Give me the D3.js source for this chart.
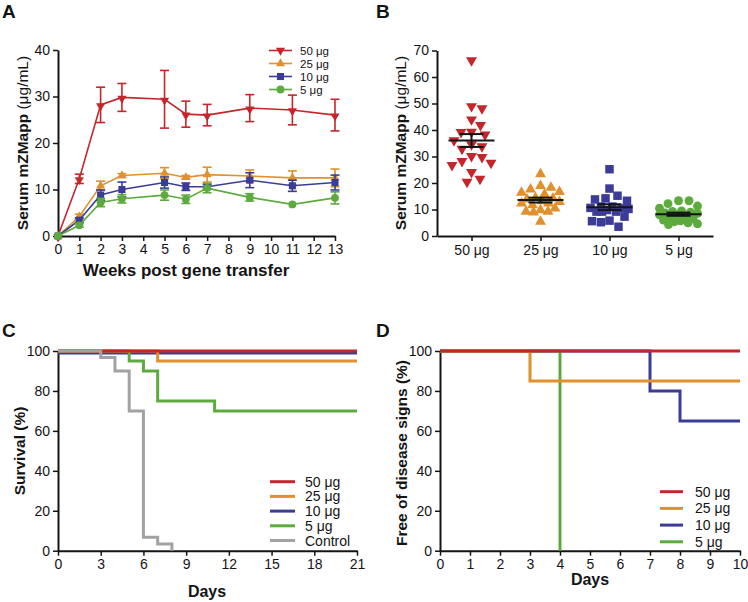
<!DOCTYPE html>
<html>
<head>
<meta charset="utf-8">
<script src="https://cdn.jsdelivr.net/npm/d3@7"></script>
<style>
  body { margin: 0; background: #fff; }
  svg { display: block; }
</style>
</head>
<body>
<script>
// panel A - serum levels over time
const weeks = [0, 1, 2, 3, 5, 6, 7, 9, 11, 13];
const mean50 = [0, 12.3, 28.2, 29.8, 29.4, 26.2, 26.0, 27.5, 27.1, 26.0];
const err50 = [0, 1.0, 3.8, 3.0, 6.2, 2.8, 2.3, 2.9, 3.2, 3.4];
const mean25 = [0, 4.2, 10.8, 13.0, 13.5, 12.6, 13.2, 12.9, 12.5, 12.5];
const err25 = [0, 0.5, 1.0, 0.4, 1.2, 0.4, 1.6, 1.3, 1.5, 1.9];
const mean10 = [0, 3.4, 8.8, 10.0, 11.5, 10.6, 10.6, 12.0, 10.8, 11.5];
const err10 = [0, 0.5, 1.1, 1.6, 1.2, 0.8, 0.5, 1.6, 1.2, 1.6];
const mean5 = [0, 2.3, 7.2, 8.0, 8.8, 7.9, 10.3, 8.3, 6.8, 8.2];
const err5 = [0, 0.4, 0.9, 0.9, 1.1, 0.9, 1.0, 0.8, 0, 1.3];

// panel B - individual serum values
const doseLabels = ['50 μg', '25 μg', '10 μg', '5 μg'];
const b50 = [66.7, 49.4, 48.6, 44.4, 42.3, 39.6, 39.7, 38.7, 36.5, 35.0, 34.3, 33.3, 30.2, 30.6, 28.0, 28.7, 27.2, 24.5, 20.9, 22.0];
const b25 = [23.4, 18.9, 18.3, 17.6, 16.4, 16.7, 15.7, 14.4, 14.2, 12.3, 12.9, 11.7, 12.3, 10.4, 9.8, 9.2, 9.2, 8.9, 5.4, 13.8, 13.2];
const b10 = [25.2, 17.9, 14.2, 15.2, 13.3, 13.8, 11.1, 11.1, 10.4, 9.8, 9.2, 9.2, 9.2, 7.3, 5.8, 5.2, 5.6, 3.5, 10.6, 10.2];
const b5 = [12.2, 13.3, 13.3, 11.3, 10.5, 9.3, 9.0, 8.7, 8.5, 8.0, 7.6, 7.2, 6.8, 6.5, 6.0, 5.7, 5.4, 5.0, 4.6, 4.3, 9.5];

// panel C - survival
const c50Days = [0, 21], c50Pct = [100, 100];
const c25Days = [0, 7, 21], c25Pct = [100, 95, 95];
const c10Days = [0, 21], c10Pct = [99, 99];
const c5Days = [0, 5, 6, 7, 11, 21], c5Pct = [100, 95, 90, 75, 70, 70];
const ctrlDays = [0, 3, 4, 5, 6, 7, 8], ctrlPct = [100, 96.7, 90, 70, 6.7, 3.3, 0];

// panel D - free of disease signs
const d50Days = [0, 10], d50Pct = [100, 100];
const d25Days = [0, 3, 10], d25Pct = [100, 85, 85];
const d10Days = [0, 7, 8, 10], d10Pct = [100, 80, 65, 65];
const d5Days = [0, 4], d5Pct = [100, 0];

const FONT = '"Liberation Sans", Arial, Helvetica, sans-serif';
const RED = '#c4262b', ORANGE = '#e0902c', BLUE = '#3b3c97', GREEN = '#5dab3e', GRAY = '#a2a2a2';
const INK = '#141414';

const svg = d3.select('body').append('svg')
  .attr('width', 748).attr('height', 602)
  .style('font-family', FONT);

function styleAxis(g) {
  g.select('.domain').attr('stroke', INK).attr('stroke-width', 2);
  g.selectAll('.tick line').attr('stroke', INK).attr('stroke-width', 1.5);
  g.selectAll('.tick text').attr('font-size', 14).attr('fill', INK).attr('font-family', FONT);
}

function yTitle(x, y, bold, normal) {
  const t = svg.append('text')
    .attr('transform', `translate(${x},${y}) rotate(-90)`)
    .attr('text-anchor', 'middle')
    .attr('dominant-baseline', 'central')
    .attr('fill', INK);
  t.append('tspan').attr('font-size', 15.5).attr('font-weight', 'bold').text(bold);
  if (normal) t.append('tspan').attr('font-size', 15.5).attr('font-weight', 'normal').text(normal);
}

function panelLetter(x, y, s) {
  svg.append('text').attr('x', x).attr('y', y)
    .attr('font-size', 19).attr('font-weight', 'bold').attr('fill', INK).text(s);
}

// ---------- A ----------
const xA = d3.scaleLinear().domain([0, 13]).range([58, 335]);
const yA = d3.scaleLinear().domain([0, 40]).range([236, 50]);

svg.append('g').attr('transform', 'translate(0,236)')
  .call(d3.axisBottom(xA).tickValues(d3.range(0, 14)).tickFormat(d3.format('d')).tickSize(5).tickPadding(3).tickSizeOuter(0))
  .call(styleAxis);
svg.append('g').attr('transform', 'translate(58,0)')
  .call(d3.axisLeft(yA).tickValues([0, 10, 20, 30, 40]).tickSize(5).tickPadding(3).tickSizeOuter(0))
  .call(styleAxis);

const seriesA = [
  { name: '50 μg', mean: mean50, err: err50, color: RED, sym: d3.symbolTriangle, rot: 180, size: 36 },
  { name: '25 μg', mean: mean25, err: err25, color: ORANGE, sym: d3.symbolTriangle, rot: 0, size: 36 },
  { name: '10 μg', mean: mean10, err: err10, color: BLUE, sym: d3.symbolSquare, rot: 0, size: 50 },
  { name: '5 μg', mean: mean5, err: err5, color: GREEN, sym: d3.symbolCircle, rot: 0, size: 48 }
];

const lineA = d3.line().x(d => xA(d[0])).y(d => yA(d[1]));

seriesA.forEach(s => {
  const pts = weeks.map((w, i) => [w, s.mean[i], s.err[i]]);
  const g = svg.append('g');
  g.append('path').datum(pts).attr('d', lineA)
    .attr('fill', 'none').attr('stroke', s.color).attr('stroke-width', 1.6);
  const eb = g.selectAll('g.eb').data(pts.filter(p => p[2] > 0)).enter().append('g');
  eb.append('line')
    .attr('x1', d => xA(d[0])).attr('x2', d => xA(d[0]))
    .attr('y1', d => yA(d[1] - d[2])).attr('y2', d => yA(d[1] + d[2]))
    .attr('stroke', s.color).attr('stroke-width', 1.6);
  [-1, 1].forEach(sign => {
    eb.append('line')
      .attr('x1', d => xA(d[0]) - 4.5).attr('x2', d => xA(d[0]) + 4.5)
      .attr('y1', d => yA(d[1] + sign * d[2])).attr('y2', d => yA(d[1] + sign * d[2]))
      .attr('stroke', s.color).attr('stroke-width', 1.6);
  });
  g.selectAll('path.m').data(pts).enter().append('path')
    .attr('d', d3.symbol().type(s.sym).size(s.size))
    .attr('transform', d => `translate(${xA(d[0])},${yA(d[1]) + (s.rot ? 1 : 0)}) rotate(${s.rot})`)
    .attr('fill', s.color);
});

// legend A (rows are tight in the original)
seriesA.forEach((s, i) => {
  const y = 50.5 + i * 13;
  svg.append('line').attr('x1', 269).attr('x2', 292).attr('y1', y).attr('y2', y)
    .attr('stroke', s.color).attr('stroke-width', 1.6);
  svg.append('path').attr('d', d3.symbol().type(s.sym).size(s.size))
    .attr('transform', `translate(280.5,${y}) rotate(${s.rot})`).attr('fill', s.color);
  svg.append('text').attr('x', 300).attr('y', y).attr('dominant-baseline', 'central')
    .attr('font-size', 11.5).attr('fill', INK).text(s.name);
});

yTitle(22, 143, 'Serum mZMapp ', '(μg/mL)');
svg.append('text').attr('x', 186).attr('y', 276).attr('text-anchor', 'middle')
  .attr('font-size', 17).attr('font-weight', 'bold').attr('fill', INK).text('Weeks post gene transfer');
panelLetter(2, 18, 'A');

// ---------- B ----------
const xB = d3.scalePoint().domain(doseLabels).range([437, 713]).padding(0.5);
const yB = d3.scaleLinear().domain([0, 70]).range([236, 50.5]);

svg.append('g').attr('transform', 'translate(0,236)')
  .call(d3.axisBottom(xB).tickSize(5).tickPadding(4).tickSizeOuter(0))
  .call(styleAxis);
svg.append('g').attr('transform', 'translate(437,0)')
  .call(d3.axisLeft(yB).tickValues(d3.range(0, 71, 10)).tickSize(5).tickPadding(3).tickSizeOuter(0))
  .call(styleAxis);

const groupsB = [
  { label: '50 μg', vals: b50, color: RED, sym: d3.symbolTriangle, rot: 180, size: 52 },
  { label: '25 μg', vals: b25, color: ORANGE, sym: d3.symbolTriangle, rot: 0, size: 52 },
  { label: '10 μg', vals: b10, color: BLUE, sym: d3.symbolSquare, rot: 0, size: 72 },
  { label: '5 μg', vals: b5, color: GREEN, sym: d3.symbolCircle, rot: 0, size: 62 }
];

// beeswarm with a width cap; when the column is full, points overlap (as in the original)
function swarm(vals, cx, diam, maxOff) {
  const order = vals.map((v, i) => i).sort((a, b) => vals[b] - vals[a]);
  const placed = [];
  const out = new Array(vals.length);
  const cands = [0];
  for (let k = 0.5; k <= maxOff; k += 0.5) cands.push(k, -k);
  order.forEach(i => {
    const y = yB(vals[i]);
    let best = null, bestGap = -1, bestOff = 0;
    for (const off of cands) {
      const gap = placed.length ? d3.min(placed, p => Math.hypot(p.x - (cx + off), p.y - y)) : Infinity;
      if (gap >= diam) { best = off; break; }
      if (gap > bestGap) { bestGap = gap; bestOff = off; }
    }
    if (best === null) best = bestOff;
    const pt = { x: cx + best, y: y };
    placed.push(pt);
    out[i] = pt;
  });
  return out;
}

groupsB.forEach(gr => {
  const cx = xB(gr.label);
  const pts = swarm(gr.vals, cx, 10.5, gr.label === '50 μg' ? 22 : 19);
  const g = svg.append('g');
  g.selectAll('path').data(pts).enter().append('path')
    .attr('d', d3.symbol().type(gr.sym).size(gr.size))
    .attr('transform', d => `translate(${d.x},${d.y + (gr.rot ? 1.2 : 0)}) rotate(${gr.rot})`)
    .attr('fill', gr.color);
  const m = d3.mean(gr.vals);
  const sem = d3.deviation(gr.vals) / Math.sqrt(gr.vals.length);
  g.append('line').attr('x1', cx - 23).attr('x2', cx + 23).attr('y1', yB(m)).attr('y2', yB(m))
    .attr('stroke', INK).attr('stroke-width', 2);
  g.append('line').attr('x1', cx).attr('x2', cx).attr('y1', yB(m - sem)).attr('y2', yB(m + sem))
    .attr('stroke', INK).attr('stroke-width', 2);
  [m - sem, m + sem].forEach(v => {
    g.append('line').attr('x1', cx - 12).attr('x2', cx + 12).attr('y1', yB(v)).attr('y2', yB(v))
      .attr('stroke', INK).attr('stroke-width', 2);
  });
});

yTitle(400, 143, 'Serum mZMapp ', '(μg/mL)');
panelLetter(376, 18, 'B');

// ---------- C ----------
const xC = d3.scaleLinear().domain([0, 21]).range([58, 357]);
const yC = d3.scaleLinear().domain([0, 100]).range([550.7, 351]);

svg.append('g').attr('transform', 'translate(0,550.7)')
  .call(d3.axisBottom(xC).tickValues(d3.range(0, 22, 3)).tickSize(5).tickPadding(3).tickSizeOuter(0))
  .call(styleAxis);
svg.append('g').attr('transform', 'translate(58,0)')
  .call(d3.axisLeft(yC).tickValues(d3.range(0, 101, 20)).tickSize(5).tickPadding(3).tickSizeOuter(0))
  .call(styleAxis);

const stepC = d3.line().curve(d3.curveStepAfter).x(d => xC(d[0])).y(d => yC(d[1]));
const seriesC = [
  { name: '50 μg', days: c50Days, pct: c50Pct, color: RED, z: 3 },
  { name: '25 μg', days: c25Days, pct: c25Pct, color: ORANGE, z: 2 },
  { name: '10 μg', days: c10Days, pct: c10Pct, color: BLUE, z: 0 },
  { name: '5 μg', days: c5Days, pct: c5Pct, color: GREEN, z: 1 },
  { name: 'Control', days: ctrlDays, pct: ctrlPct, color: GRAY, z: 4 }
];
seriesC.slice().sort((a, b) => a.z - b.z).forEach(s => {
  svg.append('path').datum(s.days.map((d, i) => [d, s.pct[i]])).attr('d', stepC)
    .attr('fill', 'none').attr('stroke', s.color).attr('stroke-width', 3);
});
seriesC.forEach((s, i) => {
  const y = 481.7 + i * 14.7;
  svg.append('line').attr('x1', 270).attr('x2', 295).attr('y1', y).attr('y2', y)
    .attr('stroke', s.color).attr('stroke-width', 3);
  svg.append('text').attr('x', 305).attr('y', y).attr('dominant-baseline', 'central')
    .attr('font-size', 14).attr('fill', INK).text(s.name);
});

yTitle(19, 451, 'Survival (%)');
svg.append('text').attr('x', 207).attr('y', 597).attr('text-anchor', 'middle')
  .attr('font-size', 16).attr('font-weight', 'bold').attr('fill', INK).text('Days');
panelLetter(2, 337, 'C');

// ---------- D ----------
const xD = d3.scaleLinear().domain([0, 10]).range([440, 740]);
const yD = d3.scaleLinear().domain([0, 100]).range([550.7, 351]);

svg.append('g').attr('transform', 'translate(0,550.7)')
  .call(d3.axisBottom(xD).tickValues(d3.range(0, 11)).tickSize(5).tickPadding(3).tickSizeOuter(0))
  .call(styleAxis);
svg.append('g').attr('transform', 'translate(440,0)')
  .call(d3.axisLeft(yD).tickValues(d3.range(0, 101, 20)).tickSize(5).tickPadding(3).tickSizeOuter(0))
  .call(styleAxis);

const stepD = d3.line().curve(d3.curveStepAfter).x(d => xD(d[0])).y(d => yD(d[1]));
const seriesD = [
  { name: '50 μg', days: d50Days, pct: d50Pct, color: RED, z: 3 },
  { name: '25 μg', days: d25Days, pct: d25Pct, color: ORANGE, z: 2 },
  { name: '10 μg', days: d10Days, pct: d10Pct, color: BLUE, z: 0 },
  { name: '5 μg', days: d5Days, pct: d5Pct, color: GREEN, z: 1 }
];
seriesD.slice().sort((a, b) => a.z - b.z).forEach(s => {
  svg.append('path').datum(s.days.map((d, i) => [d, s.pct[i]])).attr('d', stepD)
    .attr('fill', 'none').attr('stroke', s.color).attr('stroke-width', 3);
});
seriesD.forEach((s, i) => {
  const y = 491.7 + i * 16.7;
  svg.append('line').attr('x1', 660).attr('x2', 683).attr('y1', y).attr('y2', y)
    .attr('stroke', s.color).attr('stroke-width', 3);
  svg.append('text').attr('x', 695).attr('y', y).attr('dominant-baseline', 'central')
    .attr('font-size', 14).attr('fill', INK).text(s.name);
});

yTitle(401, 453, 'Free of disease signs (%)');
svg.append('text').attr('x', 590).attr('y', 585).attr('text-anchor', 'middle')
  .attr('font-size', 16).attr('font-weight', 'bold').attr('fill', INK).text('Days');
panelLetter(376, 337, 'D');
</script>
</body>
</html>
